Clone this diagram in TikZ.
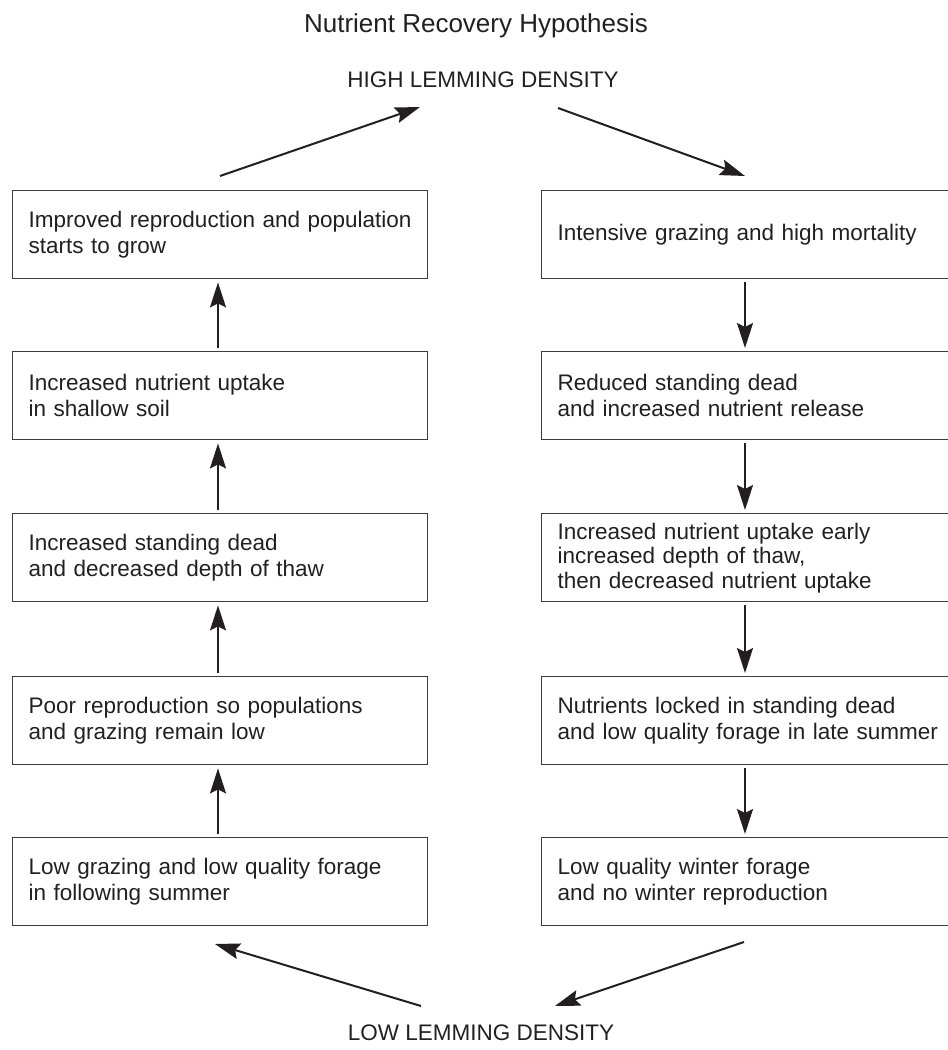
\documentclass[tikz,border=0pt]{standalone}
\usepackage{fontspec}
\setmainfont{Liberation Sans}
\usetikzlibrary{arrows.meta}
\definecolor{ink}{HTML}{231F20}
\definecolor{frame}{HTML}{3C3C3C}
\begin{document}
\begin{tikzpicture}[x=1pt,y=-1pt,
  every node/.style={text=ink, font=\fontsize{22.5}{26}\selectfont},
  lbox/.style={draw=frame, line width=1.4pt, rectangle, anchor=north west,
    minimum width=415pt, minimum height=88pt, text width=383pt,
    inner xsep=16pt, inner ysep=0pt, align=left},
  rbox/.style={lbox, minimum width=424pt, text width=392pt},
  arr/.style={draw=ink, line width=2pt, -{Stealth[length=25pt,width=16pt,inset=4pt]}}
]
\useasboundingbox (0,0) rectangle (948,1050);

\node[anchor=base, font=\fontsize{26}{30}\selectfont] (title) at (476,32) {Nutrient Recovery Hypothesis};
\node[anchor=base] (high) at (483,87) {HIGH LEMMING DENSITY};
\node[anchor=base] (low) at (481,1040) {LOW LEMMING DENSITY};

% left column
\node[lbox] (L1) at (12,190) {Improved reproduction and population\\starts to grow};
\node[lbox] (L2) at (12,351) {Increased nutrient uptake\\in shallow soil};
\node[lbox] (L3) at (12,513) {Increased standing dead\\and decreased depth of thaw};
\node[lbox] (L4) at (12,676) {Poor reproduction so populations\\and grazing remain low};
\node[lbox] (L5) at (12,837) {Low grazing and low quality forage\\in following summer};

% right column
\node[rbox] (R1) at (541,190) {Intensive grazing and high mortality};
\node[rbox] (R2) at (541,351) {Reduced standing dead\\and increased nutrient release};
\node[rbox, font=\fontsize{22.5}{24.5}\selectfont] (R3) at (541,513) {Increased nutrient uptake early\\increased depth of thaw,\\then decreased nutrient uptake};
\node[rbox] (R4) at (541,676) {Nutrients locked in standing dead\\and low quality forage in late summer};
\node[rbox] (R5) at (541,837) {Low quality winter forage\\and no winter reproduction};

% column axes
\coordinate (xL) at (218,0);
\coordinate (xR) at (745,0);

% vertical arrows
\draw[arr] ([yshift=3pt]L5.north -| xL) -- ([yshift=-3pt]L4.south -| xL);
\draw[arr] ([yshift=3pt]L4.north -| xL) -- ([yshift=-3pt]L3.south -| xL);
\draw[arr] ([yshift=3pt]L3.north -| xL) -- ([yshift=-3pt]L2.south -| xL);
\draw[arr] ([yshift=3pt]L2.north -| xL) -- ([yshift=-3pt]L1.south -| xL);
\draw[arr] ([yshift=-3pt]R1.south -| xR) -- ([yshift=3pt]R2.north -| xR);
\draw[arr] ([yshift=-3pt]R2.south -| xR) -- ([yshift=3pt]R3.north -| xR);
\draw[arr] ([yshift=-3pt]R3.south -| xR) -- ([yshift=3pt]R4.north -| xR);
\draw[arr] ([yshift=-3pt]R4.south -| xR) -- ([yshift=3pt]R5.north -| xR);

% diagonal arrows
\coordinate (tlA) at (220,176);
\coordinate (tlB) at (420,107);
\coordinate (trA) at (558,108);
\coordinate (trB) at (745,176);
\coordinate (blA) at (421,1006);
\coordinate (blB) at (215,944);
\coordinate (brA) at (744,942);
\coordinate (brB) at (555,1006);
\draw[arr] (tlA) -- (tlB);
\draw[arr] (trA) -- (trB);
\draw[arr] (blA) -- (blB);
\draw[arr] (brA) -- (brB);
\end{tikzpicture}
\end{document}
